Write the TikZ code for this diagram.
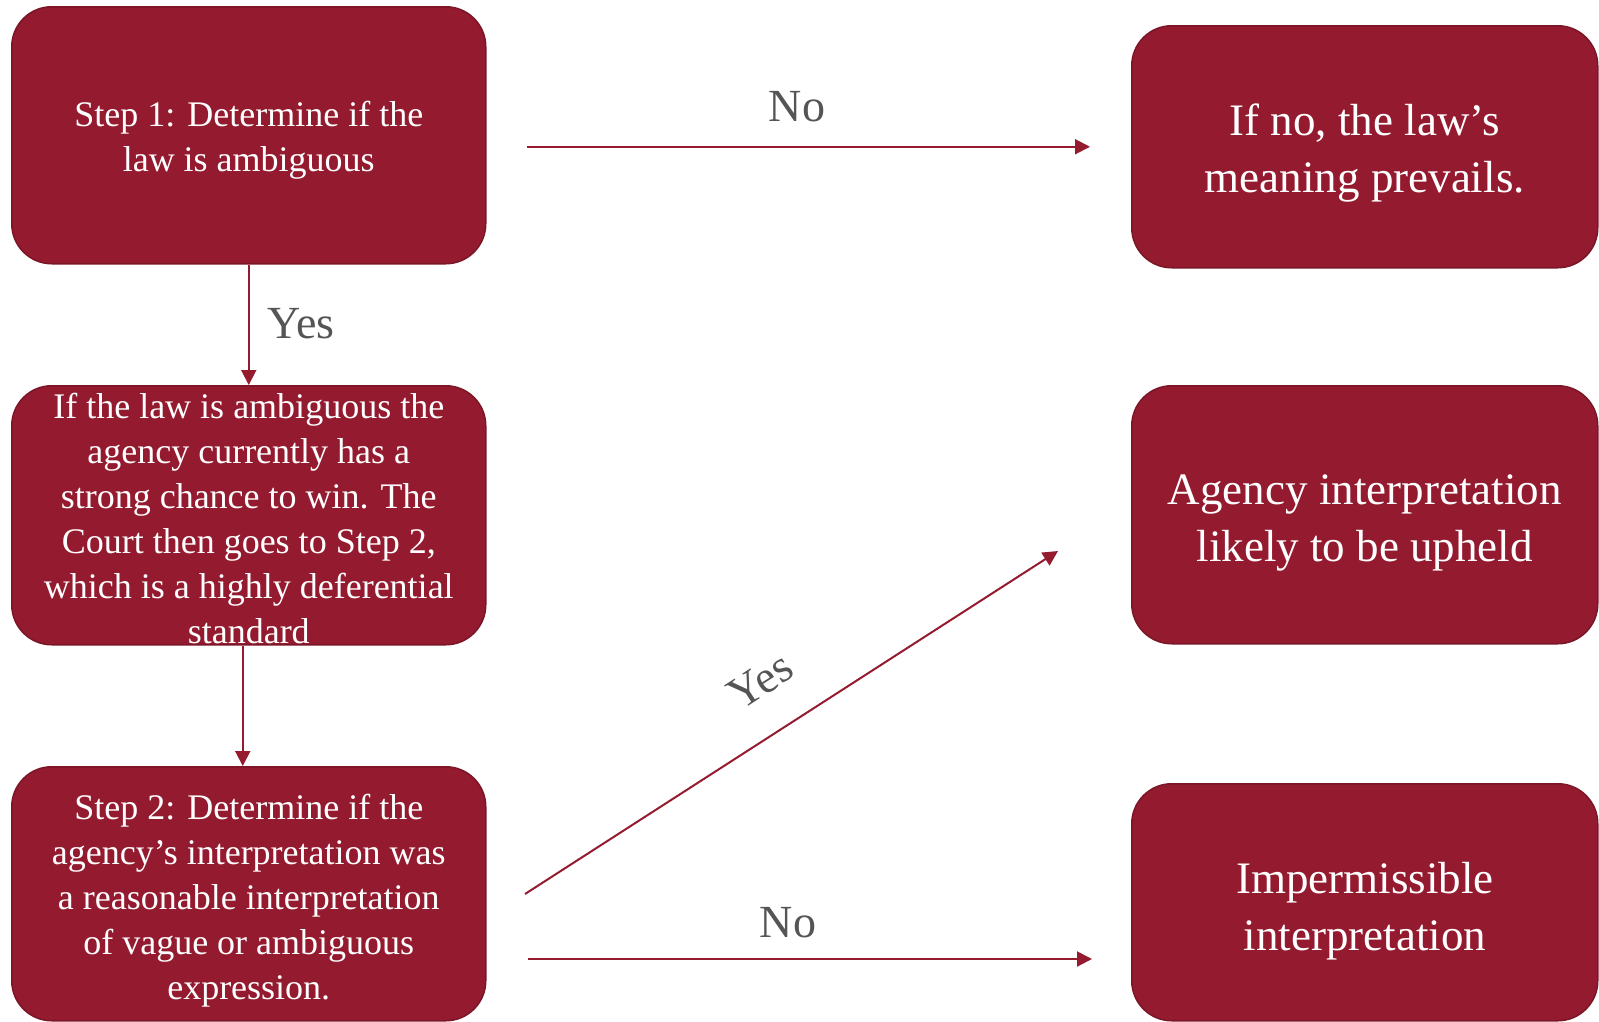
\documentclass[tikz,border=0pt]{standalone}
\usepackage{fontspec}
\setmainfont{Liberation Serif}
\usetikzlibrary{arrows.meta,calc}
\definecolor{boxred}{HTML}{941B2F}
\definecolor{boxedge}{HTML}{7A1626}
\definecolor{arrowred}{HTML}{951B2F}
\definecolor{labelgray}{HTML}{555555}
\tikzset{
  box/.style={draw=boxedge, line width=1.5pt, fill=boxred, rounded corners=40pt,
    inner sep=0pt, anchor=north west},
  boxtext/.style={text=white, align=center, inner sep=0pt},
  smalltext/.style={font=\fontsize{36}{45}\selectfont},
  bigtext/.style={font=\fontsize{45}{57}\selectfont},
  conn/.style={draw=arrowred, line width=2pt, -{Triangle[length=15pt,width=15pt]}},
  lbl/.style={text=labelgray, font=\fontsize{46}{52}\selectfont, inner sep=0pt}
}
\begin{document}
\begin{tikzpicture}[x=1pt,y=-1pt]
\useasboundingbox (0,0) rectangle (1599,1021);
\clip (0,0) rectangle (1599,1021);
% left column
\node[box, minimum width=474pt, minimum height=257pt] (b1) at (11,6) {};
\node[boxtext, smalltext] (t1) at ($(b1.center)+(0,5)$)
  {Step 1: Determine if the\\law is ambiguous};
\node[box, minimum width=474pt, minimum height=259pt] (b2) at (11,385) {};
\node[boxtext, smalltext] (t2) at ($(b2.center)+(0,3)$)
  {If the law is ambiguous the\\agency currently has a\\strong chance to win. The\\Court then goes to Step 2,\\which is a highly deferential\\standard};
\node[box, minimum width=474pt, minimum height=254pt] (b3) at (11,766) {};
\node[boxtext, smalltext] (t3) at ($(b3.center)+(0,7)$)
  {Step 2: Determine if the\\agency’s interpretation was\\a reasonable interpretation\\of vague or ambiguous\\expression.};
% right column
\node[box, minimum width=466pt, minimum height=242pt] (r1) at (1131,25) {};
\node[boxtext, bigtext] (s1) at ($(r1.center)+(0,6)$)
  {If no, the law’s\\meaning prevails.};
\node[box, minimum width=466pt, minimum height=258pt] (r2) at (1131,385) {};
\node[boxtext, bigtext] (s2) at ($(r2.center)+(0,8)$)
  {Agency interpretation\\likely to be upheld};
\node[box, minimum width=466pt, minimum height=237pt] (r3) at (1131,783) {};
\node[boxtext, bigtext] (s3) at ($(r3.center)+(0,9)$)
  {Impermissible\\interpretation};
% connectors
\draw[conn, shorten <=40pt, shorten >=41pt] (b1.east |- r1.west) -- (r1.west);
\node[lbl] (no1) at (797,107) {No};
\draw[conn] (b1.south) -- (b2.north);
\node[lbl] (yes1) at (301,324) {Yes};
\draw[conn] ([xshift=-6pt]b2.south) -- ([xshift=-6pt]b3.north);
\coordinate (ys) at (525,894);
\coordinate (ye) at (1058,551);
\draw[conn] (ys) -- (ye);
\node[lbl, rotate=33] (yes2) at (760,681) {Yes};
\coordinate (ns) at (528,959);
\coordinate (ne) at (1092,959);
\draw[conn] (ns) -- (ne);
\node[lbl] (no2) at (788,923) {No};
\end{tikzpicture}
\end{document}
